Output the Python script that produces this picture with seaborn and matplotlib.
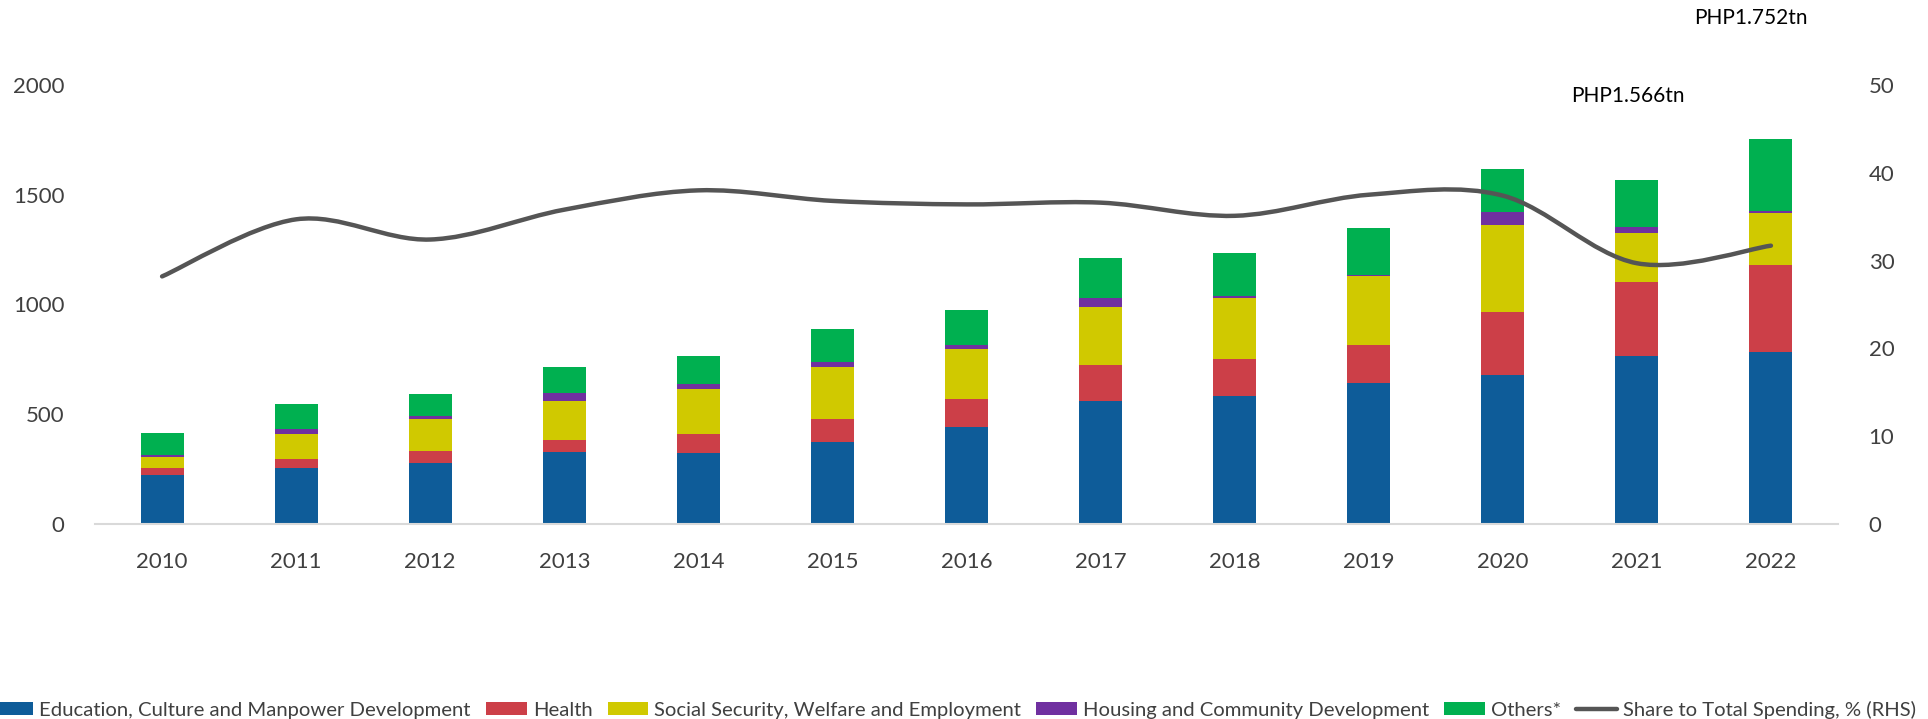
import numpy as np
import pandas as pd
import matplotlib
matplotlib.use("Agg")
import matplotlib.pyplot as plt
import seaborn as sns
from matplotlib.path import Path
from matplotlib.patches import PathPatch, Patch
from matplotlib.lines import Line2D

years = ["2010", "2011", "2012", "2013", "2014", "2015", "2016",
         "2017", "2018", "2019", "2020", "2021", "2022"]
education = [224, 255, 279, 328, 325, 375, 444, 560, 581, 643, 678, 765, 784]
health = [32, 41, 52, 56, 85, 105, 126, 163, 172, 172, 286, 339, 394]
social = [49, 114, 148, 177, 203, 234, 225, 267, 278, 316, 400, 221, 238]
housing = [8, 23, 11, 34, 26, 26, 19, 39, 7, 4, 57, 26, 10]
others = [103, 113, 102, 119, 127, 148, 160, 183, 197, 213, 194, 217, 328]
share = [28.2, 34.7, 32.4, 35.8, 38.0, 36.8, 36.4, 36.6, 35.1, 37.5, 37.4, 29.7, 31.7]
annotations = {"2021": "PHP1.566tn", "2022": "PHP1.752tn"}

series_names = ["Education, Culture and Manpower Development", "Health",
                "Social Security, Welfare and Employment",
                "Housing and Community Development", "Others*"]
series_vals = [education, health, social, housing, others]
colors = ["#0E5C99", "#CC3F48", "#D0C900", "#7030A0", "#00B050"]
line_name = "Share to Total Spending, % (RHS)"
line_color = "#555555"

sns.set_theme(style="white")
plt.rcParams["font.family"] = ["Lato", "DejaVu Sans"]

fig = plt.figure(figsize=(19.28, 7.19), dpi=100)
ax = fig.add_axes([0.0493, 0.2712, 0.904, 0.6106])

df = pd.DataFrame({"year": years})
bottom = np.zeros(len(years))
for name, vals, col in zip(series_names, series_vals, colors):
    df[name] = vals
    sns.barplot(data=df, x="year", y=name, color=col, width=0.32,
                bottom=bottom, ax=ax, saturation=1, edgecolor="none", linewidth=0)
    bottom = bottom + np.array(vals)

ax.set_xlim(-0.5, len(years) - 0.5)
ax.set_ylim(0, 2000)
ax.set_yticks([0, 500, 1000, 1500, 2000])
ax.set_xlabel("")
ax.set_ylabel("")
for s in ["top", "right", "left"]:
    ax.spines[s].set_visible(False)
ax.spines["bottom"].set_color("#D9D9D9")
ax.spines["bottom"].set_linewidth(1.5)
ax.tick_params(axis="both", length=0, labelsize=16, colors="#404040")
ax.tick_params(axis="x", pad=20)
ax.tick_params(axis="y", pad=22)

# totals annotations
for yr, txt in annotations.items():
    i = years.index(yr)
    off = -0.07 if yr == "2021" else -0.15
    ypos = 1950 if yr == "2021" else 2305
    ax.text(i + off, ypos, txt, ha="center", va="center", fontsize=15,
            color="black", clip_on=False)

# secondary axis with smoothed line
ax2 = ax.twinx()
ax2.set_ylim(0, 50)
ax2.set_yticks([0, 10, 20, 30, 40, 50])
for s in ["top", "right", "left", "bottom"]:
    ax2.spines[s].set_visible(False)
ax2.tick_params(axis="y", length=0, labelsize=16, colors="#404040", pad=22)
ax2.grid(False)
ax.grid(False)

xs = np.arange(len(years), dtype=float)
ys = np.array(share, dtype=float)
P = np.column_stack([xs, ys])
verts = [tuple(P[0])]
codes = [Path.MOVETO]
n = len(P)
for i in range(n - 1):
    p0 = P[i - 1] if i > 0 else P[i]
    p1 = P[i]
    p2 = P[i + 1]
    p3 = P[i + 2] if i + 2 < n else P[i + 1]
    c1 = p1 + (p2 - p0) / 6.0
    c2 = p2 - (p3 - p1) / 6.0
    verts += [tuple(c1), tuple(c2), tuple(p2)]
    codes += [Path.CURVE4] * 3
path = Path(verts, codes)
ax2.add_patch(PathPatch(path, facecolor="none", edgecolor=line_color, lw=3.2,
                        capstyle="round", joinstyle="round"))

handles = [Patch(facecolor=c, edgecolor="none") for c in colors]
handles.append(Line2D([0], [0], color=line_color, lw=3.2, solid_capstyle="round"))
labels = series_names + [line_name]
fig.legend(handles, labels, loc="lower center", bbox_to_anchor=(0.495, -0.025),
           ncol=6, frameon=False, fontsize=14.6, handlelength=2.0, handleheight=0.65,
           handletextpad=0.3, columnspacing=0.75, labelcolor="#404040")

fig.savefig("out.png", dpi=100)
